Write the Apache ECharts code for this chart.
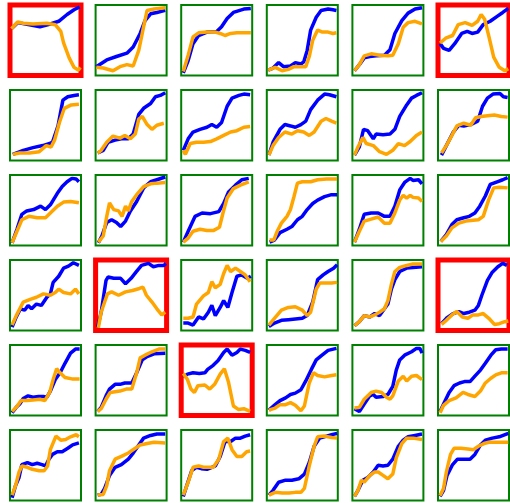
<!DOCTYPE html>
<html>
<head>
<meta charset="utf-8">
<script src="https://cdn.jsdelivr.net/npm/echarts@6/dist/echarts.min.js"></script>
<style>html,body{margin:0;padding:0;background:#fff;}#chart{width:510px;height:503px;}</style>
</head>
<body>
<div id="chart"></div>
<script>
// Each panel: [x, y] pairs, x = time (0-100), y = value (0-100)
const blueRow0 = [
  [[1,67],[10,76],[27,73],[42,70],[57,74],[69,78],[81,88],[91,95],[99,99]],
  [[0,11],[15,21],[29,26],[44,31],[53,40],[63,60],[70,79],[78,89],[87,91],[99,94]],
  [[2,2],[9,20],[16,45],[24,57],[36,62],[50,63],[57,70],[65,82],[74,91],[89,96],[99,97]],
  [[1,6],[8,9],[16,17],[23,11],[33,12],[40,17],[48,15],[52,18],[57,35],[62,65],[70,84],[77,94],[87,96],[94,95],[99,94]],
  [[2,5],[9,14],[16,24],[24,26],[33,27],[45,28],[53,36],[60,60],[70,79],[79,90],[89,96],[99,98]],
  [[2,45],[7,38],[15,35],[23,45],[33,60],[41,63],[48,60],[56,62],[64,73],[74,78],[85,86],[92,91],[100,97]]
];
const orangeRow0 = [
  [[1,67],[10,77],[18,75],[32,74],[52,75],[64,73],[72,63],[76,46],[84,24],[91,10],[97,6],[100,10]],
  [[0,10],[10,9],[24,5],[34,11],[44,14],[53,12],[61,35],[68,70],[73,94],[83,96],[99,98]],
  [[2,4],[9,28],[16,55],[24,61],[36,62],[48,62],[55,60],[62,57],[70,60],[79,61],[99,61]],
  [[1,6],[11,10],[21,5],[30,7],[38,11],[48,11],[55,11],[60,26],[65,50],[72,65],[79,62],[87,62],[94,60],[99,61]],
  [[2,5],[9,14],[16,27],[26,30],[38,28],[50,27],[57,28],[65,45],[72,69],[79,76],[89,78],[99,74]],
  [[2,46],[10,53],[20,57],[28,73],[38,76],[48,72],[56,78],[61,88],[66,81],[72,56],[79,25],[87,10],[95,5],[100,8]]
];
const blueRow1 = [
  [[3,7],[18,13],[32,17],[46,20],[56,23],[60,25],[68,49],[75,87],[82,92],[91,94],[98,95]],
  [[2,9],[10,13],[17,25],[27,28],[36,30],[46,30],[53,37],[61,66],[68,75],[78,82],[85,92],[92,94],[99,98]],
  [[2,13],[9,30],[16,40],[26,44],[36,47],[43,51],[50,47],[57,54],[65,78],[72,90],[82,94],[89,96],[98,95]],
  [[2,6],[8,25],[18,44],[25,51],[33,49],[40,47],[48,51],[55,56],[62,73],[72,87],[82,96],[89,95],[99,92]],
  [[2,6],[9,18],[15,44],[21,42],[29,30],[33,37],[43,36],[53,37],[60,44],[67,63],[77,80],[84,90],[91,94],[99,98]],
  [[4,6],[11,20],[21,40],[29,50],[36,49],[46,51],[56,56],[63,78],[70,90],[78,96],[88,97],[93,92],[99,91]]
];
const orangeRow1 = [
  [[3,7],[13,9],[27,9],[41,11],[51,20],[58,18],[63,28],[70,54],[77,75],[87,80],[98,81]],
  [[2,9],[7,13],[15,25],[24,34],[34,31],[41,35],[49,30],[56,37],[61,59],[66,63],[73,51],[80,44],[87,50],[97,53]],
  [[2,13],[5,7],[12,23],[21,25],[31,25],[41,26],[50,30],[60,35],[70,40],[79,42],[89,47],[98,48]],
  [[2,6],[8,20],[16,32],[25,40],[35,37],[43,42],[52,40],[60,35],[67,40],[77,56],[84,60],[92,56],[99,53]],
  [[2,6],[7,18],[14,32],[19,23],[29,20],[38,11],[48,7],[57,13],[65,23],[74,20],[82,26],[91,35],[99,40]],
  [[4,9],[11,20],[19,35],[26,49],[36,53],[46,50],[53,61],[61,63],[70,64],[80,65],[90,63],[99,62]]
];
const blueRow2 = [
  [[2,2],[9,22],[16,44],[23,49],[33,51],[43,56],[50,51],[57,58],[67,75],[74,85],[81,92],[88,97],[94,96],[98,92]],
  [[3,2],[8,12],[15,32],[22,36],[29,32],[35,26],[42,34],[49,49],[58,63],[68,83],[78,92],[87,95],[99,99]],
  [[2,3],[9,19],[19,41],[29,46],[41,45],[53,48],[60,60],[67,77],[77,87],[86,95],[96,97]],
  [[3,3],[10,6],[18,17],[28,22],[35,26],[43,36],[50,41],[57,51],[65,60],[72,65],[82,70],[92,73],[100,73]],
  [[2,3],[9,22],[16,44],[26,46],[36,46],[45,41],[53,41],[60,56],[67,80],[74,91],[82,97],[86,94],[94,95],[99,89]],
  [[3,4],[11,14],[19,29],[26,36],[36,39],[44,41],[52,46],[59,56],[67,71],[74,88],[84,92],[92,95],[99,98]]
];
const orangeRow2 = [
  [[2,2],[9,19],[16,36],[26,41],[38,39],[50,39],[57,46],[67,56],[76,62],[86,63],[98,61]],
  [[3,3],[10,12],[15,41],[19,61],[25,51],[32,49],[37,41],[42,56],[46,49],[51,63],[58,73],[68,85],[78,89],[87,90],[99,91]],
  [[2,3],[9,9],[16,19],[26,22],[36,20],[45,20],[54,25],[59,46],[65,68],[74,82],[84,87],[96,92]],
  [[3,6],[9,6],[14,19],[20,31],[28,41],[33,51],[38,70],[43,90],[50,92],[62,92],[72,95],[85,96],[100,96]],
  [[2,3],[9,19],[16,34],[26,37],[36,40],[45,31],[53,31],[60,46],[67,65],[72,72],[77,68],[82,72],[86,69],[94,68],[99,63]],
  [[3,4],[11,12],[19,24],[29,31],[39,34],[46,35],[57,36],[64,41],[72,66],[79,83],[87,84],[99,83]]
];
const blueRow3 = [
  [[2,3],[8,18],[14,30],[20,28],[25,35],[30,30],[37,37],[44,35],[52,47],[57,52],[61,69],[69,78],[76,90],[83,93],[90,98],[98,94]],
  [[2,3],[7,25],[14,72],[17,77],[25,75],[35,75],[42,67],[50,75],[57,84],[65,94],[75,97],[82,92],[90,94],[97,94],[100,97]],
  [[2,9],[9,9],[16,6],[24,18],[31,15],[38,25],[43,35],[48,20],[55,32],[60,42],[66,32],[72,54],[79,78],[86,80],[94,75],[99,78]],
  [[2,4],[10,9],[20,13],[30,14],[40,15],[50,16],[57,20],[65,40],[72,73],[80,80],[87,85],[95,90],[100,95]],
  [[2,5],[9,11],[16,20],[24,18],[31,23],[38,20],[45,30],[50,37],[55,59],[60,73],[67,85],[77,90],[86,91],[99,92]],
  [[4,8],[11,16],[21,23],[29,26],[36,23],[44,25],[52,28],[57,35],[62,50],[70,72],[77,84],[85,92],[92,97],[98,94]]
];
const orangeRow3 = [
  [[2,6],[8,20],[18,40],[28,44],[37,47],[47,52],[57,50],[64,54],[69,59],[76,54],[86,52],[93,59],[98,52]],
  [[3,2],[7,25],[12,40],[16,52],[22,55],[32,50],[42,55],[52,57],[62,60],[67,62],[72,50],[80,40],[87,30],[94,21],[99,25]],
  [[2,16],[9,16],[16,18],[21,37],[31,49],[38,54],[43,70],[48,61],[55,66],[60,82],[65,94],[70,85],[77,90],[84,85],[91,80],[98,70]],
  [[2,6],[10,16],[20,28],[30,32],[40,33],[50,28],[57,20],[62,25],[70,59],[75,68],[85,68],[92,68],[100,69]],
  [[2,5],[9,11],[16,20],[24,18],[31,21],[38,25],[45,30],[50,42],[55,66],[60,85],[67,91],[77,94],[86,96],[99,96]],
  [[4,7],[11,13],[19,21],[26,26],[34,18],[42,16],[49,21],[57,21],[64,23],[72,16],[80,7],[87,8],[95,11],[100,12]]
];
const blueRow4 = [
  [[2,2],[8,10],[13,15],[18,23],[25,27],[32,25],[40,26],[47,26],[52,25],[57,34],[64,51],[71,61],[78,75],[86,90],[93,96],[99,96]],
  [[2,4],[7,10],[14,27],[19,37],[27,44],[34,44],[41,46],[51,46],[58,61],[66,80],[73,85],[83,89],[99,90]],
  [[2,55],[8,59],[16,61],[25,60],[33,61],[37,66],[45,72],[52,79],[60,91],[65,96],[72,87],[79,91],[84,96],[91,94],[98,91]],
  [[2,6],[11,14],[18,20],[26,24],[33,29],[40,31],[48,36],[55,49],[63,66],[70,80],[77,86],[87,94],[99,97]],
  [[2,8],[9,4],[16,15],[24,27],[29,29],[33,25],[43,26],[50,29],[57,41],[62,65],[67,80],[74,87],[84,92],[91,97],[96,97],[99,90]],
  [[2,4],[7,15],[15,32],[22,42],[30,46],[37,48],[45,48],[52,56],[60,65],[67,75],[75,87],[82,95],[90,96],[99,96]]
];
const orangeRow4 = [
  [[2,4],[8,10],[15,20],[23,20],[32,21],[42,22],[49,20],[56,32],[61,51],[66,67],[71,61],[78,54],[88,52],[99,52]],
  [[2,4],[7,8],[14,22],[20,32],[27,33],[34,34],[43,37],[51,37],[58,61],[63,83],[70,87],[80,92],[90,96],[99,96]],
  [[2,60],[8,51],[13,37],[18,32],[23,42],[33,43],[40,37],[47,44],[55,59],[61,67],[67,47],[74,12],[81,7],[89,8],[98,4]],
  [[2,6],[11,9],[18,14],[26,14],[33,17],[40,13],[48,5],[53,12],[60,46],[66,61],[72,57],[82,55],[92,57],[99,58]],
  [[2,9],[9,10],[16,22],[26,32],[33,34],[41,32],[48,25],[53,22],[57,27],[65,49],[72,56],[77,49],[84,56],[91,57],[99,51]],
  [[2,2],[7,13],[15,20],[25,24],[35,32],[42,29],[52,26],[60,34],[67,46],[75,53],[82,58],[90,61],[99,61]]
];
const blueRow5 = [
  [[2,2],[7,20],[12,32],[16,51],[24,54],[31,51],[38,53],[45,51],[50,49],[55,59],[60,66],[67,70],[74,70],[82,75],[89,80],[98,83]],
  [[2,6],[7,7],[12,16],[19,35],[27,47],[36,51],[46,59],[53,68],[61,80],[68,90],[78,94],[87,96],[99,96]],
  [[2,4],[7,20],[14,42],[21,47],[28,45],[36,44],[43,47],[48,49],[55,63],[62,85],[70,85],[77,90],[84,90],[91,93],[98,95]],
  [[2,6],[8,13],[16,25],[26,28],[35,28],[45,30],[53,37],[60,54],[67,78],[75,90],[85,93],[92,95],[100,97]],
  [[2,4],[7,13],[14,28],[21,32],[29,40],[36,50],[43,49],[50,50],[57,59],[65,78],[72,87],[79,92],[89,94],[99,96]],
  [[2,4],[7,13],[12,35],[20,51],[27,59],[37,59],[45,59],[52,66],[60,80],[67,87],[77,90],[87,92],[100,97]]
];
const orangeRow5 = [
  [[2,6],[7,20],[12,40],[16,49],[24,47],[31,44],[41,42],[48,42],[53,49],[57,73],[65,93],[72,87],[79,88],[86,92],[94,95],[98,92]],
  [[2,6],[10,7],[15,20],[19,42],[27,59],[36,63],[46,68],[56,75],[63,80],[73,82],[83,84],[99,83]],
  [[2,6],[9,25],[16,47],[24,49],[31,47],[38,47],[45,47],[53,59],[60,85],[66,90],[72,73],[79,63],[86,63],[93,70],[98,71]],
  [[2,6],[11,10],[21,9],[31,9],[40,10],[48,10],[53,16],[60,49],[67,78],[72,92],[82,93],[92,91],[100,90]],
  [[2,4],[7,13],[12,28],[16,25],[24,35],[31,40],[36,40],[43,35],[50,30],[57,37],[62,61],[70,82],[77,90],[86,90],[99,88]],
  [[2,5],[7,16],[11,40],[17,66],[22,75],[32,75],[42,74],[50,73],[57,78],[65,82],[72,84],[82,84],[100,84]]
];
// panels flagged with a red frame: [row, col]
const redPanels = [[0,0],[0,5],[3,1],[3,5],[4,2]];

const blueRows = [blueRow0, blueRow1, blueRow2, blueRow3, blueRow4, blueRow5];
const orangeRows = [orangeRow0, orangeRow1, orangeRow2, orangeRow3, orangeRow4, orangeRow5];

const grid = [], xAxis = [], yAxis = [], series = [];
let idx = 0;
for (let r = 0; r < 6; r++) {
  for (let c = 0; c < 6; c++) {
    const isRed = redPanels.some(p => p[0] === r && p[1] === c);
    grid.push({
      left: 10 + 85.6 * c, top: 5 + 85 * r, width: 71, height: 70.5,
      show: true, backgroundColor: '#ffffff',
      borderColor: isRed ? '#ff0000' : '#008000',
      borderWidth: isRed ? 5 : 2
    });
    xAxis.push({ type: 'value', gridIndex: idx, min: -1, max: 101, show: false });
    yAxis.push({ type: 'value', gridIndex: idx, min: -2, max: 102, show: false });
    series.push({
      type: 'line', xAxisIndex: idx, yAxisIndex: idx, data: blueRows[r][c],
      showSymbol: false, symbol: 'none', lineStyle: { width: 3.5, color: '#0000ff' },
      itemStyle: { color: '#0000ff' }, z: 3
    });
    series.push({
      type: 'line', xAxisIndex: idx, yAxisIndex: idx, data: orangeRows[r][c],
      showSymbol: false, symbol: 'none', lineStyle: { width: 3.5, color: '#ffa500' },
      itemStyle: { color: '#ffa500' }, z: 4
    });
    idx++;
  }
}

const chart = echarts.init(document.getElementById('chart'), null, { renderer: 'canvas' });
chart.setOption({ animation: false, backgroundColor: '#ffffff', grid, xAxis, yAxis, series });
</script>
</body>
</html>
